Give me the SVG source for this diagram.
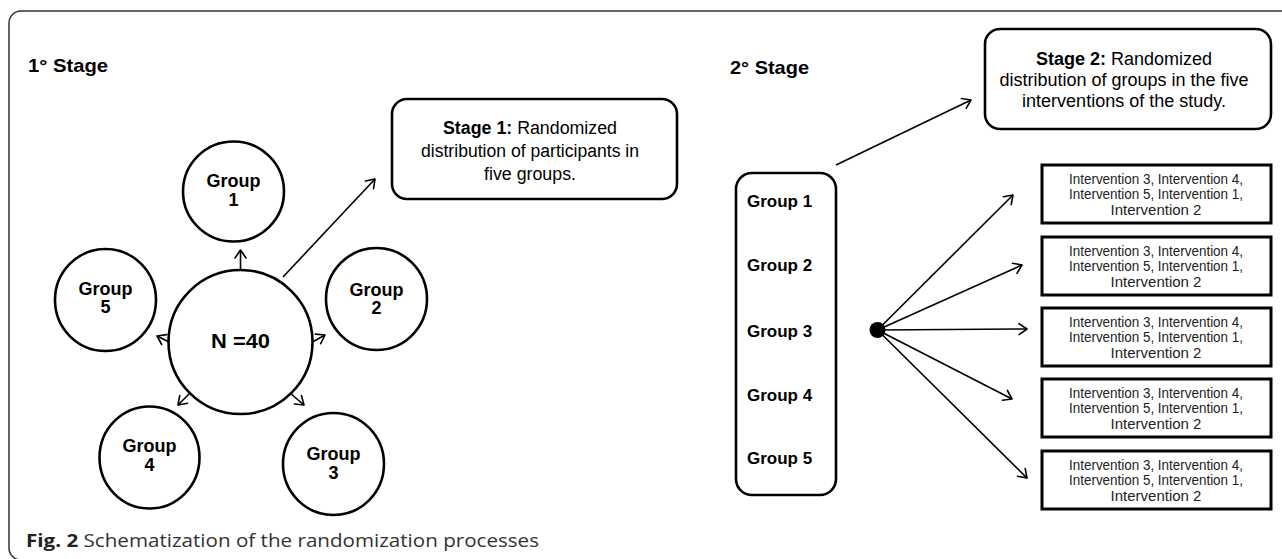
<svg xmlns="http://www.w3.org/2000/svg" width="1282" height="559" viewBox="0 0 1282 559">
<defs>
<marker id="ah" markerUnits="userSpaceOnUse" markerWidth="14" markerHeight="14" refX="10" refY="7" orient="auto">
<path d="M2,1.5 L10,7 L2,12.5" fill="none" stroke="#000" stroke-width="1.6" stroke-linecap="round" stroke-linejoin="round"/>
</marker>
<style>
.node{fill:#fff;stroke:#000;stroke-width:2.6}
.ibox{fill:#fff;stroke:#000;stroke-width:3}
.lbl{font-family:"Liberation Sans",Arial,sans-serif;font-weight:bold;font-size:18px;fill:#000;text-anchor:middle}
.glbl{font-family:"Liberation Sans",Arial,sans-serif;font-weight:bold;font-size:17px;fill:#000}
.head{font-family:"Liberation Sans",Arial,sans-serif;font-weight:bold;font-size:19px;fill:#000}
.stg{font-family:"Liberation Sans",Arial,sans-serif;font-size:18px;fill:#000;text-anchor:middle}
.itx{font-family:"Liberation Sans",Arial,sans-serif;font-size:15px;fill:#222;text-anchor:middle}
.conn{stroke:#000;stroke-width:1.6;fill:none;marker-end:url(#ah)}
.cap{font-family:"Open Sans","Liberation Sans",sans-serif;font-size:18px;fill:#333}
</style>
</defs>
<rect x="9" y="11" width="1300" height="549" rx="12" fill="#fff" stroke="#333" stroke-width="1.5"/>
<text class="head" x="28" y="72" textLength="80" lengthAdjust="spacingAndGlyphs">1° Stage</text>
<text class="head" x="730" y="74" textLength="79" lengthAdjust="spacingAndGlyphs">2° Stage</text>

<g id="connectors">
<line class="conn" x1="240.5" y1="270" x2="240.5" y2="250"/>
<line class="conn" x1="312.5" y1="342" x2="325" y2="335"/>
<line class="conn" x1="169" y1="342" x2="157" y2="336"/>
<line class="conn" x1="190" y1="393" x2="178" y2="405"/>
<line class="conn" x1="290" y1="393" x2="304" y2="405"/>
<line class="conn" x1="283" y1="277" x2="375" y2="179"/>
<line class="conn" x1="836" y1="165" x2="971" y2="100"/>
<line class="conn" x1="877.5" y1="330" x2="1013" y2="195"/>
<line class="conn" x1="877.5" y1="330" x2="1022" y2="265"/>
<line class="conn" x1="877.5" y1="330" x2="1027" y2="329"/>
<line class="conn" x1="877.5" y1="330" x2="1012" y2="399"/>
<line class="conn" x1="877.5" y1="330" x2="1027" y2="478"/>
</g>

<g id="n40">
<circle class="node" cx="240.5" cy="342" r="72"/>
<text class="lbl" x="240.5" y="348" style="font-size:21px" textLength="59" lengthAdjust="spacingAndGlyphs">N =40</text>
</g>
<g id="group1">
<ellipse class="node" cx="233.5" cy="191.5" rx="50.5" ry="50"/>
<text class="lbl" x="233.5" y="187">Group</text>
<text class="lbl" x="233.5" y="206">1</text>
</g>
<g id="group2">
<ellipse class="node" cx="376.5" cy="299" rx="50.5" ry="51"/>
<text class="lbl" x="376.5" y="296">Group</text>
<text class="lbl" x="376.5" y="314">2</text>
</g>
<g id="group5">
<ellipse class="node" cx="105.5" cy="300" rx="50.5" ry="51"/>
<text class="lbl" x="105.5" y="295">Group</text>
<text class="lbl" x="105.5" y="313">5</text>
</g>
<g id="group4">
<ellipse class="node" cx="149.5" cy="457.5" rx="50" ry="51"/>
<text class="lbl" x="149.5" y="452">Group</text>
<text class="lbl" x="149.5" y="471">4</text>
</g>
<g id="group3">
<ellipse class="node" cx="333.5" cy="464" rx="50.5" ry="51"/>
<text class="lbl" x="333.5" y="460">Group</text>
<text class="lbl" x="333.5" y="479">3</text>
</g>

<g id="stage1">
<rect class="node" x="392" y="99" width="285" height="100" rx="15"/>
<text class="stg" x="530" y="134" textLength="174" lengthAdjust="spacingAndGlyphs"><tspan font-weight="bold">Stage 1:</tspan> Randomized</text>
<text class="stg" x="530" y="157" textLength="218" lengthAdjust="spacingAndGlyphs">distribution of participants in</text>
<text class="stg" x="530" y="180" textLength="92" lengthAdjust="spacingAndGlyphs">five groups.</text>
</g>

<g id="stage2">
<rect class="node" x="985" y="29" width="286" height="100" rx="15"/>
<text class="stg" x="1124" y="65"><tspan font-weight="bold">Stage 2:</tspan> Randomized</text>
<text class="stg" x="1124" y="86">distribution of groups in the five</text>
<text class="stg" x="1124" y="107">interventions of the study.</text>
</g>

<g id="groups">
<rect class="node" x="736" y="173" width="100" height="322" rx="16"/>
<text class="glbl" x="747" y="207">Group 1</text>
<text class="glbl" x="747" y="271">Group 2</text>
<text class="glbl" x="747" y="337">Group 3</text>
<text class="glbl" x="747" y="401">Group 4</text>
<text class="glbl" x="747" y="464">Group 5</text>
</g>

<g id="dot">
<circle cx="877.5" cy="330" r="8" fill="#000"/>
</g>

<g id="int1">
<rect class="ibox" x="1042" y="165" width="229" height="58"/>
<text class="itx" x="1156" y="184" textLength="174" lengthAdjust="spacingAndGlyphs">Intervention 3, Intervention 4,</text>
<text class="itx" x="1156" y="199" textLength="174" lengthAdjust="spacingAndGlyphs">Intervention 5, Intervention 1,</text>
<text class="itx" x="1156" y="215">Intervention 2</text>
</g>
<g id="int2">
<rect class="ibox" x="1042" y="237" width="229" height="58"/>
<text class="itx" x="1156" y="256" textLength="174" lengthAdjust="spacingAndGlyphs">Intervention 3, Intervention 4,</text>
<text class="itx" x="1156" y="271" textLength="174" lengthAdjust="spacingAndGlyphs">Intervention 5, Intervention 1,</text>
<text class="itx" x="1156" y="287">Intervention 2</text>
</g>
<g id="int3">
<rect class="ibox" x="1042" y="308" width="229" height="58"/>
<text class="itx" x="1156" y="327" textLength="174" lengthAdjust="spacingAndGlyphs">Intervention 3, Intervention 4,</text>
<text class="itx" x="1156" y="342" textLength="174" lengthAdjust="spacingAndGlyphs">Intervention 5, Intervention 1,</text>
<text class="itx" x="1156" y="358">Intervention 2</text>
</g>
<g id="int4">
<rect class="ibox" x="1042" y="379" width="229" height="58"/>
<text class="itx" x="1156" y="398" textLength="174" lengthAdjust="spacingAndGlyphs">Intervention 3, Intervention 4,</text>
<text class="itx" x="1156" y="413" textLength="174" lengthAdjust="spacingAndGlyphs">Intervention 5, Intervention 1,</text>
<text class="itx" x="1156" y="429">Intervention 2</text>
</g>
<g id="int5">
<rect class="ibox" x="1042" y="451" width="229" height="58"/>
<text class="itx" x="1156" y="470" textLength="174" lengthAdjust="spacingAndGlyphs">Intervention 3, Intervention 4,</text>
<text class="itx" x="1156" y="485" textLength="174" lengthAdjust="spacingAndGlyphs">Intervention 5, Intervention 1,</text>
<text class="itx" x="1156" y="501">Intervention 2</text>
</g>

<text class="cap" x="26" y="547" textLength="513" lengthAdjust="spacingAndGlyphs"><tspan font-weight="bold" fill="#222">Fig. 2</tspan> Schematization of the randomization processes</text>
</svg>
